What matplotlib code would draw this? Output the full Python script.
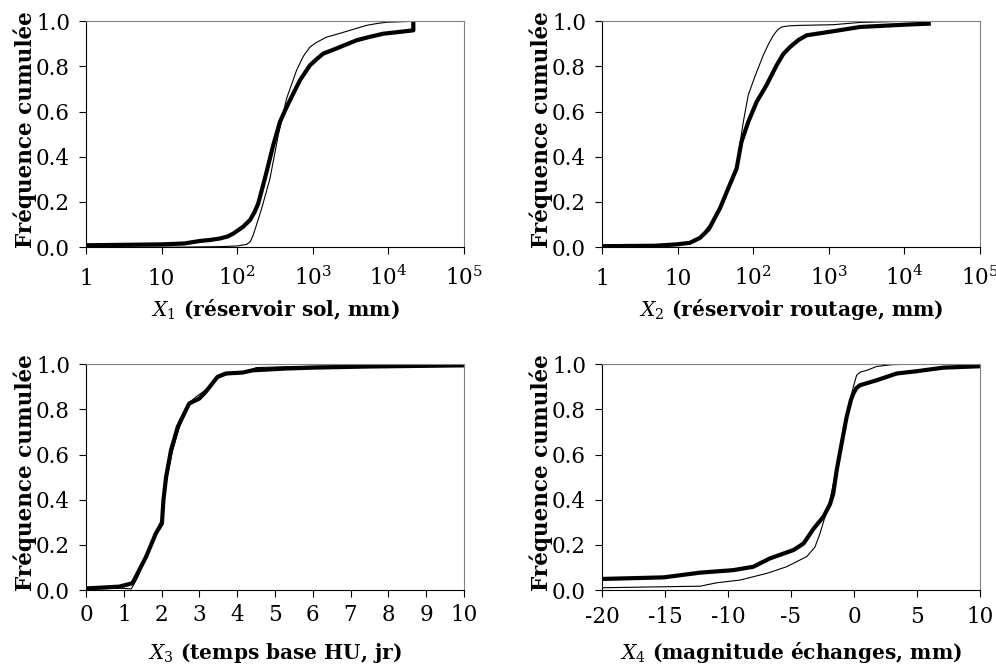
import matplotlib
matplotlib.use("Agg")
import matplotlib.pyplot as plt
from matplotlib.ticker import FixedLocator, LogLocator, NullFormatter, FuncFormatter, MultipleLocator

plt.rcParams['font.family'] = 'DejaVu Serif'
plt.rcParams['mathtext.fontset'] = 'dejavuserif'
plt.rcParams['axes.unicode_minus'] = False

# X1 (reservoir sol, mm) - log axis
x1_thick = [1, 3, 10, 20, 32, 45, 59, 75, 89, 120, 148, 170, 190, 215, 245, 300, 368, 430, 499, 677, 918, 1150, 1377, 1800, 2290, 3800, 5500, 8560, 14000, 21400, 21400]
y1_thick = [0.008, 0.01, 0.012, 0.016, 0.027, 0.032, 0.038, 0.047, 0.06, 0.09, 0.12, 0.155, 0.193, 0.26, 0.333, 0.451, 0.554, 0.605, 0.65, 0.739, 0.805, 0.835, 0.857, 0.872, 0.886, 0.916, 0.93, 0.945, 0.953, 0.96, 1.0]
x1_thin = [1, 20, 60, 100, 134, 150, 163, 185, 211, 272, 350, 451, 611, 750, 918, 1100, 1520, 2200, 3100, 5140, 7000, 9500, 21400]
y1_thin = [0.0, 0.0, 0.002, 0.005, 0.012, 0.025, 0.053, 0.11, 0.171, 0.304, 0.496, 0.658, 0.783, 0.845, 0.886, 0.905, 0.93, 0.945, 0.96, 0.982, 0.99, 0.996, 1.0]

# X2 (reservoir routage, mm) - log axis
x2_thick = [1, 5, 9.7, 14.6, 19.8, 23, 26.9, 36.3, 46.8, 60.4, 70, 86, 111, 150, 204, 250, 307, 400, 510, 1145, 2600, 10000, 22400]
y2_thick = [0.004, 0.006, 0.012, 0.019, 0.041, 0.062, 0.09, 0.171, 0.26, 0.348, 0.466, 0.554, 0.643, 0.717, 0.805, 0.855, 0.886, 0.918, 0.938, 0.956, 0.975, 0.985, 0.99]
x2_thin = [1, 5, 9.7, 14.6, 19.8, 23, 26.9, 36.3, 46.8, 60.4, 74, 86, 105, 136, 160, 185, 210, 238, 300, 415, 1145, 2600, 10000, 22400]
y2_thin = [0.003, 0.005, 0.01, 0.017, 0.036, 0.055, 0.075, 0.165, 0.262, 0.36, 0.554, 0.673, 0.754, 0.85, 0.9, 0.938, 0.962, 0.975, 0.98, 0.982, 0.985, 0.995, 1.0, 1.0]

# X3 (temps base HU, jr)
x3_thick = [0, 0.88, 1.23, 1.32, 1.59, 1.85, 2.01, 2.05, 2.12, 2.25, 2.43, 2.73, 3.0, 3.17, 3.48, 3.7, 4.14, 4.41, 5.29, 6.0, 7.5, 10]
y3_thick = [0.007, 0.015, 0.03, 0.059, 0.147, 0.251, 0.295, 0.398, 0.501, 0.619, 0.723, 0.826, 0.848, 0.878, 0.944, 0.959, 0.963, 0.973, 0.981, 0.985, 0.99, 0.995]
x3_thin = [0, 0.9, 1.2, 1.35, 1.6, 1.85, 2.0, 2.07, 2.15, 2.28, 2.45, 2.73, 2.95, 3.2, 3.5, 3.75, 4.2, 4.5, 5.5, 7.0, 10]
y3_thin = [0.004, 0.008, 0.005, 0.05, 0.15, 0.26, 0.31, 0.41, 0.5, 0.61, 0.71, 0.83, 0.86, 0.89, 0.94, 0.955, 0.965, 0.985, 0.99, 0.993, 0.997]

# X4 (magnitude echanges, mm)
x4_thick = [-20, -15.1, -12.2, -9.58, -7.99, -6.67, -4.8, -4.0, -3.2, -2.43, -1.9, -1.64, -1.37, -0.98, -0.58, -0.25, -0.05, 0.2, 0.48, 1.8, 3.39, 4.98, 7.1, 10]
y4_thick = [0.049, 0.056, 0.077, 0.088, 0.103, 0.14, 0.177, 0.206, 0.272, 0.324, 0.38, 0.428, 0.531, 0.649, 0.767, 0.84, 0.87, 0.895, 0.907, 0.929, 0.959, 0.969, 0.985, 0.991]
x4_thin = [-20, -12.2, -10.9, -9.05, -6.9, -5.35, -3.75, -3.1, -2.7, -1.9, -1.37, -0.85, -0.32, 0.0, 0.21, 0.5, 1.01, 1.8, 3.0, 4.5, 10]
y4_thin = [0.01, 0.017, 0.032, 0.044, 0.074, 0.103, 0.148, 0.19, 0.25, 0.398, 0.546, 0.693, 0.841, 0.91, 0.951, 0.965, 0.973, 0.99, 0.998, 1.0, 1.0]

xlabels = [r'$X_1$ (réservoir sol, mm)', r'$X_2$ (réservoir routage, mm)',
           r'$X_3$ (temps base HU, jr)', r'$X_4$ (magnitude échanges, mm)']
log_ticks = [1, 10, 100, 1000, 10000, 100000]
log_labels = ['1', '10', r'$10^2$', r'$10^3$', r'$10^4$', r'$10^5$']


def log_fmt(v, p):
    k = int(round(v))
    return log_labels[log_ticks.index(k)] if k in log_ticks else ''


fig = plt.figure(figsize=(9.96, 6.66), dpi=100)
pos = [[0.0863, 0.629, 0.3795, 0.339], [0.6044, 0.629, 0.3795, 0.339],
       [0.0863, 0.1141, 0.3795, 0.339], [0.6044, 0.1141, 0.3795, 0.339]]
data = [(x1_thick, y1_thick, x1_thin, y1_thin), (x2_thick, y2_thick, x2_thin, y2_thin),
        (x3_thick, y3_thick, x3_thin, y3_thin), (x4_thick, y4_thick, x4_thin, y4_thin)]

for i in range(4):
    ax = fig.add_axes(pos[i])
    xt, yt, xn, yn = data[i]
    ax.plot(xt, yt, color='black', lw=3.0, solid_joinstyle='round', solid_capstyle='butt')
    ax.plot(xn, yn, color='black', lw=0.8)
    if i < 2:
        ax.set_xscale('log')
        ax.set_xlim(1, 1e5)
        ax.xaxis.set_major_locator(FixedLocator(log_ticks))
        ax.xaxis.set_major_formatter(FuncFormatter(log_fmt))
        ax.xaxis.set_minor_locator(LogLocator(base=10, subs=range(2, 10)))
        ax.xaxis.set_minor_formatter(NullFormatter())
        xpad = 22.4
    elif i == 2:
        ax.set_xlim(0, 10)
        ax.xaxis.set_major_locator(MultipleLocator(1))
        xpad = 17.5
    else:
        ax.set_xlim(-20, 10)
        ax.xaxis.set_major_locator(MultipleLocator(5))
        xpad = 18.5
    ax.set_ylim(0, 1)
    ax.yaxis.set_major_locator(MultipleLocator(0.2))
    ax.yaxis.set_major_formatter(FuncFormatter(lambda v, p: '%.1f' % v))
    ax.tick_params(axis='both', which='major', direction='out', length=5, width=0.8, labelsize=15.5)
    ax.tick_params(axis='x', which='major', pad=xpad)
    ax.tick_params(axis='y', which='major', pad=6.5)
    ax.tick_params(axis='x', which='minor', direction='out', length=5, width=0.8)
    for lab in ax.get_xticklabels():
        lab.set_va('baseline')
    ax.spines['top'].set_color('#808080')
    ax.spines['right'].set_color('#808080')
    ax.set_ylabel('Fréquence cumulée', fontsize=15.5, fontweight='bold', va='center')
    ax.yaxis.set_label_coords(-0.161, 0.52)
    ax.set_xlabel(xlabels[i], fontsize=14.5, fontweight='bold', va='baseline')
    ax.xaxis.set_label_coords(0.5, -0.305)

fig.savefig('out.png', dpi=100)
